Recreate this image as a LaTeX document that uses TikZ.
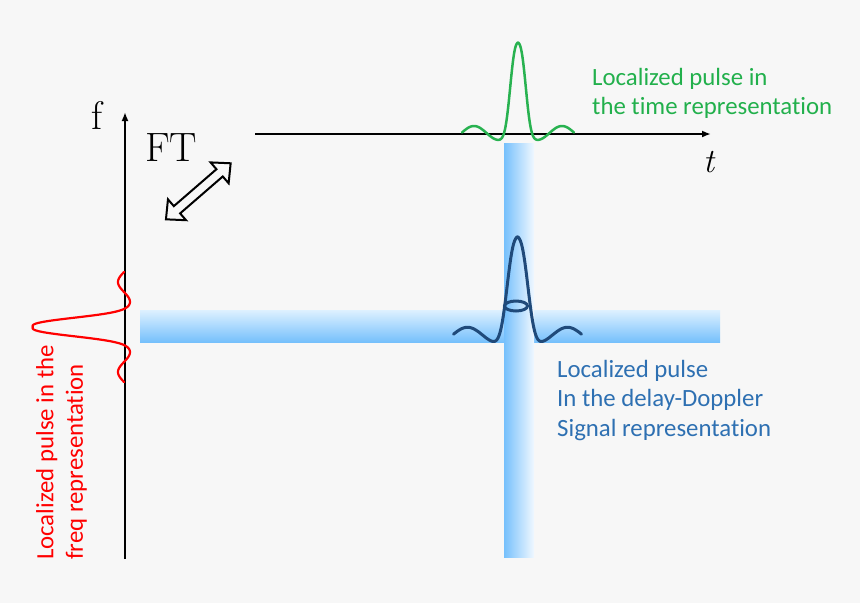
\documentclass[tikz,border=0pt]{standalone}
\usepackage{fontspec}
\newfontfamily\calfont[Ligatures=NoCommon]{Carlito}
\usetikzlibrary{arrows.meta}
\definecolor{bg}{RGB}{247,247,247}
\definecolor{navy}{RGB}{32,74,122}
\definecolor{gcurve}{RGB}{40,178,80}
\definecolor{gtextc}{RGB}{34,176,76}
\definecolor{btextc}{RGB}{46,112,178}
\definecolor{bandlight}{RGB}{222,241,255}
\definecolor{banddark}{RGB}{118,192,252}
\definecolor{vbandlight}{RGB}{240,248,255}
\tikzset{
  axisline/.style={line width=2pt, -{Latex[length=9pt,width=7pt]}},
  lbl/.style={inner sep=0pt, outer sep=0pt},
  sanstext/.style={inner sep=0pt, align=left, font=\calfont\fontsize{24.8}{29.5}\selectfont},
  pulse/.style={line join=round, line cap=round}
}
\begin{document}
\begin{tikzpicture}[x=1pt,y=-1pt]
\fill[bg] (0,0) rectangle (860,603);
\useasboundingbox (0,0) rectangle (860,603);

% blue bands
\shade[top color=bandlight, bottom color=banddark] (140,310) rectangle (720,342);
\shade[left color=banddark, right color=vbandlight] (504,143) rectangle (534,557);

% axes
\coordinate (fbot) at (125,559);
\coordinate (ftop) at (125,112);
\coordinate (tleft) at (255,134);
\coordinate (tright) at (711,134);
\draw[axisline] (fbot) -- (ftop);
\draw[axisline] (tleft) -- (tright);

\node[lbl, anchor=base west, font=\fontsize{40}{40}\selectfont] (flab) at (91,129.5) {f};
\node[lbl, anchor=base west, font=\fontsize{34}{34}\selectfont\itshape] (tlab) at (703,172) {t};
\node[lbl, anchor=base west, font=\fontsize{41}{41}\selectfont] (ftlab) at (145,161.7) {FT};

% FT double arrow
\begin{scope}[shift={(198.3,191.3)}, rotate=40.9]
\draw[line width=2pt, fill=bg, line join=miter]
  (-42.8,0) -- (-28.2,13.8) -- (-28.2,4.8) -- (28.2,4.8) -- (28.2,13.8) -- (42.8,0)
  -- (28.2,-13.8) -- (28.2,-4.8) -- (-28.2,-4.8) -- (-28.2,-13.8) -- cycle;
\end{scope}

% green pulse (time representation)
\draw[gcurve, line width=2.5pt, pulse] plot[domain=-56:56, samples=200, smooth]
  ({518+\x}, {133 - (85.4*exp(-pow(abs(\x)/9.5+0.0001,2.6)) - 7*cos(360*(abs(\x)-19)/50))});

% red pulse (frequency representation)
\draw[red, line width=2.2pt, pulse] plot[domain=-55:55, samples=200, smooth]
  ({124 - (86.8*exp(-pow(abs(\x)/11+0.0001,2.5)) - 6*cos(360*(abs(\x)-25)/40))}, {327+\x});

% navy pulse (delay-Doppler)
\draw[navy, line width=3pt, pulse] plot[domain=-64:64, samples=200, smooth]
  ({517.5+\x}, {335 - (94.45*exp(-pow(abs(\x)/12.8+0.0001,2.6)) - 7.7*cos(360*(abs(\x)-20)/60))});
\draw[navy, line width=3pt] (516,306) ellipse [x radius=11.5, y radius=5];

% texts
\node[sanstext, text=gtextc, anchor=north west] (gtext) at (592,68)
  {Localized pulse in\\the time representation};
\node[sanstext, text=btextc, anchor=north west] (btext) at (557,360)
  {Localized pulse\\In the delay-Doppler\\Signal representation};
\node[sanstext, text=red, anchor=north west, rotate=90] (rtext) at (36,560)
  {Localized pulse in the\\freq representation};
\end{tikzpicture}
\end{document}
